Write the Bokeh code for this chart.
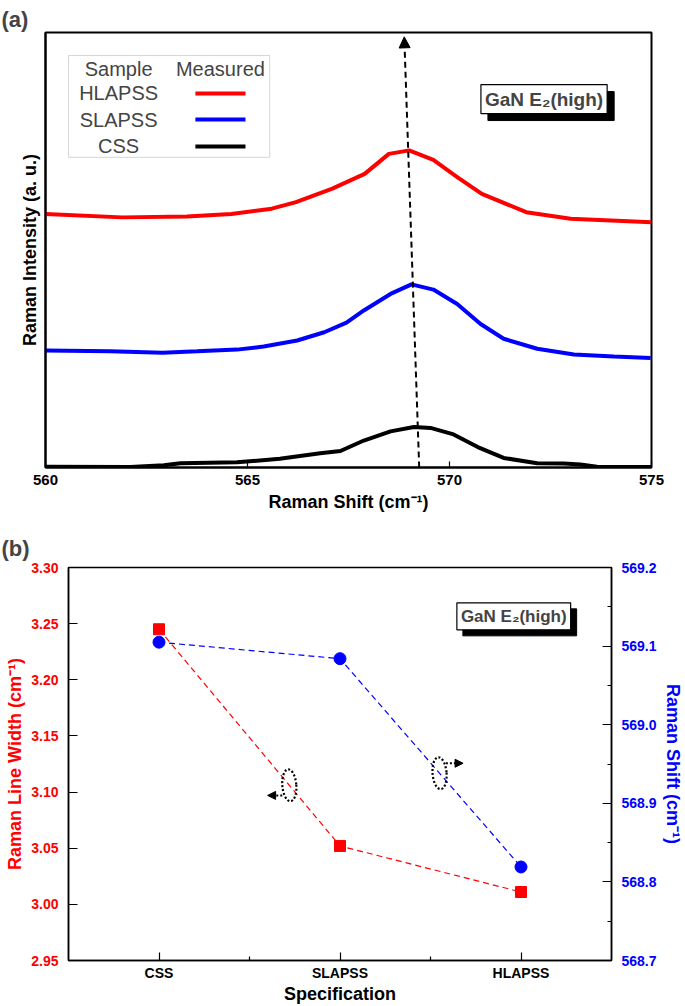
from bokeh.plotting import figure
from bokeh.models import (Range1d, LinearAxis, FixedTicker, Label, BoxAnnotation,
                          Arrow, NormalHead, NumeralTickFormatter)
from bokeh.embed import file_html
from bokeh.resources import INLINE

FONT = "Liberation Sans"

# ---------------- Panel (a): Raman spectra ----------------
shift_hlapss = [560.0, 561.9, 563.5, 564.6, 565.6, 566.2, 567.1, 567.9, 568.5, 569.0,
                569.6, 570.2, 570.8, 571.9, 573.0, 574.0, 575.0]
int_hlapss = [0.583, 0.575, 0.577, 0.583, 0.595, 0.610, 0.641, 0.675, 0.721, 0.729,
              0.707, 0.667, 0.629, 0.587, 0.572, 0.568, 0.564]

shift_slapss = [560.0, 561.6, 562.9, 563.75, 564.74, 565.4, 566.23, 566.9, 567.45, 567.88,
                568.54, 569.06, 569.6, 570.19, 570.77, 571.34, 572.17, 573.08, 574.07, 574.98]
int_slapss = [0.269, 0.267, 0.264, 0.267, 0.271, 0.278, 0.292, 0.311, 0.333, 0.361,
              0.399, 0.421, 0.409, 0.376, 0.330, 0.296, 0.273, 0.260, 0.255, 0.252]

shift_css = [560.0, 562.1, 562.93, 563.34, 564.74, 565.8, 566.8, 567.3, 567.88, 568.54,
             569.12, 569.53, 570.1, 570.7, 571.34, 572.17, 572.83, 573.24, 573.65, 575.0]
int_css = [0.002, 0.001, 0.005, 0.010, 0.012, 0.020, 0.033, 0.038, 0.062, 0.083,
           0.093, 0.091, 0.076, 0.047, 0.022, 0.010, 0.009, 0.007, 0.002, 0.001]

samples = ["HLAPSS", "SLAPSS", "CSS"]
sample_colors = ["#ff0000", "#0000ff", "#000000"]
xticks_a = [560, 565, 570, 575]

# ---------------- Panel (b): line width and shift ----------------
categories = ["CSS", "SLAPSS", "HLAPSS"]
line_width_vals = [3.245, 3.052, 3.011]
raman_shift_vals = [569.105, 569.084, 568.819]
left_ticks = [2.95, 3.00, 3.05, 3.10, 3.15, 3.20, 3.25, 3.30]
right_ticks = [568.7, 568.8, 568.9, 569.0, 569.1, 569.2]
right_minor = [568.75, 568.85, 568.95, 569.05, 569.15]


def style_axis(ax, size="15px", color="black", label_size="18px", label_color="black"):
    ax.major_label_text_font = FONT
    ax.major_label_text_font_style = "bold"
    ax.major_label_text_font_size = size
    ax.major_label_text_color = color
    ax.axis_label_text_font = FONT
    ax.axis_label_text_font_style = "bold"
    ax.axis_label_text_font_size = label_size
    ax.axis_label_text_color = label_color
    ax.axis_line_color = "black"
    ax.axis_line_width = 1.5
    ax.major_tick_line_color = "black"
    ax.major_tick_line_width = 1.2
    ax.minor_tick_line_color = "black"
    ax.minor_tick_line_width = 1.2
    ax.major_tick_out = 0
    ax.minor_tick_out = 0


def style_title(p, text, offset, standoff):
    p.title.text = text
    p.title.text_font = FONT
    p.title.text_font_size = "22px"
    p.title.text_font_style = "bold"
    p.title.align = "left"
    p.title.offset = offset
    p.title.standoff = standoff


# ================= Figure (a) =================
p1 = figure(width=685, height=519, x_range=Range1d(560, 575), y_range=Range1d(0, 1),
            output_backend="svg", toolbar_location=None,
            min_border_left=45, min_border_right=34, min_border_top=32, min_border_bottom=52)
p1.grid.visible = False
p1.outline_line_color = "black"
p1.outline_line_width = 2
style_title(p1, "(a)", -44, 2)

xa = p1.xaxis[0]
style_axis(xa)
xa.ticker = FixedTicker(ticks=xticks_a)
xa.major_tick_in = 6
xa.minor_tick_line_color = None
xa.major_label_standoff = 7
xa.axis_label = "Raman Shift (cm\u207b\u00b9)"
xa.axis_label_standoff = 4
xa.axis_line_width = 2

ya = p1.yaxis[0]
style_axis(ya)
ya.ticker = FixedTicker(ticks=[])
ya.major_tick_line_color = None
ya.minor_tick_line_color = None
ya.major_label_standoff = 0
ya.axis_label = "Raman Intensity (a. u.)"
ya.axis_label_standoff = 6
ya.axis_line_width = 2

p1.line(shift_hlapss, int_hlapss, line_color=sample_colors[0], line_width=4)
p1.line(shift_slapss, int_slapss, line_color=sample_colors[1], line_width=4)
p1.line(shift_css, int_css, line_color=sample_colors[2], line_width=4)

# peak-shift arrow
p1.add_layout(Arrow(end=NormalHead(size=11, fill_color="black", line_color="black"),
                    x_start=569.25, y_start=0.0, x_end=568.88, y_end=0.99,
                    line_color="black", line_width=2, line_dash="6 4"))

# legend box
p1.add_layout(BoxAnnotation(left=560.57, right=565.55, top=0.947, bottom=0.713,
                            fill_color="white", fill_alpha=1.0, line_color="#777777",
                            line_width=1, level="underlay"))
legend_rows_y = [0.860, 0.800, 0.738]
p1.add_layout(Label(x=561.81, y=0.915, text="Sample", text_font=FONT, text_font_size="20px",
                    text_align="center", text_baseline="middle"))
p1.add_layout(Label(x=564.33, y=0.915, text="Measured", text_font=FONT, text_font_size="20px",
                    text_align="center", text_baseline="middle"))
for name, col, yy in zip(samples, sample_colors, legend_rows_y):
    p1.add_layout(Label(x=561.81, y=yy, text=name, text_font=FONT, text_font_size="20px",
                        text_align="center", text_baseline="middle"))
    p1.segment(x0=[563.71], y0=[yy], x1=[564.95], y1=[yy], line_color=col, line_width=4)

# GaN E2(high) box with shadow
gan_text = "GaN E\u2082(high)"
p1.add_layout(Label(x=572.34, y=0.847, text=gan_text, text_font=FONT, text_font_size="19px",
                    text_font_style="bold", text_align="center", text_baseline="middle",
                    text_color="black", background_fill_color="black",
                    border_line_color="black", padding=4, x_offset=7, y_offset=-7))
p1.add_layout(Label(x=572.34, y=0.847, text=gan_text, text_font=FONT, text_font_size="19px",
                    text_font_style="bold", text_align="center", text_baseline="middle",
                    background_fill_color="white", border_line_color="black",
                    border_line_width=1.2, padding=4))

# ================= Figure (b) =================
x_idx = list(range(len(categories)))
p2 = figure(width=685, height=487, x_range=Range1d(-0.5, 2.5),
            y_range=Range1d(2.95, 3.30), output_backend="svg", toolbar_location=None,
            min_border_left=68, min_border_right=73, min_border_top=48, min_border_bottom=45)
p2.grid.visible = False
p2.outline_line_color = "black"
p2.outline_line_width = 1.5
p2.extra_y_ranges = {"shift": Range1d(568.7, 569.2)}
style_title(p2, "(b)", -67, 13)

xb = p2.xaxis[0]
style_axis(xb, size="14px")
xb.ticker = FixedTicker(ticks=x_idx, minor_ticks=[0.5, 1.5])
xb.major_label_overrides = {i: c for i, c in zip(x_idx, categories)}
xb.major_tick_in = 8
xb.minor_tick_in = 4
xb.major_label_standoff = 4
xb.axis_label = "Specification"
xb.axis_label_standoff = 0

yb = p2.yaxis[0]
style_axis(yb, size="14px", color="#ff0000", label_color="#ff0000")
yb.ticker = FixedTicker(ticks=left_ticks)
yb.formatter = NumeralTickFormatter(format="0.00")
yb.major_tick_in = 9
yb.minor_tick_line_color = None
yb.major_label_standoff = 10
yb.axis_label = "Raman Line Width (cm\u207b\u00b9)"
yb.axis_label_standoff = 3

yr = LinearAxis(y_range_name="shift")
style_axis(yr, size="14px", color="#0000ff", label_color="#0000ff")
yr.ticker = FixedTicker(ticks=right_ticks, minor_ticks=right_minor)
yr.formatter = NumeralTickFormatter(format="0.0")
yr.major_tick_in = 9
yr.minor_tick_in = 4
yr.major_label_standoff = 10
yr.axis_label = "Raman Shift (cm\u207b\u00b9)"
yr.axis_label_standoff = 3
p2.add_layout(yr, "right")

p2.line(x_idx, line_width_vals, line_color="#ff0000", line_width=1.2, line_dash="6 4")
p2.scatter(x_idx, line_width_vals, marker="square", size=11, fill_color="#ff0000",
           line_color="#ff0000")
p2.line(x_idx, raman_shift_vals, line_color="#0000ff", line_width=1.2, line_dash="6 4",
        y_range_name="shift")
p2.scatter(x_idx, raman_shift_vals, marker="circle", size=12, fill_color="#0000ff",
           line_color="#0000ff", y_range_name="shift")

# dotted "loop" markers indicating which axis each curve belongs to
t1 = 0.72
cx1 = x_idx[0] + t1 * (x_idx[1] - x_idx[0])
cy1 = line_width_vals[0] + t1 * (line_width_vals[1] - line_width_vals[0])
t2 = 0.55
cx2 = x_idx[1] + t2 * (x_idx[2] - x_idx[1])
cy2 = raman_shift_vals[1] + t2 * (raman_shift_vals[2] - raman_shift_vals[1])

p2.ellipse(x=[cx1], y=[cy1], width=14, height=32, width_units="screen", height_units="screen",
           angle=0.08, fill_color=None, line_color="black", line_width=2.2, line_dash="2 2")
p2.ellipse(x=[cx2], y=[cy2], width=14, height=32, width_units="screen", height_units="screen",
           angle=0.08, fill_color=None, line_color="black", line_width=2.2, line_dash="2 2",
           y_range_name="shift")
p2.add_layout(Arrow(end=NormalHead(size=8, fill_color="black", line_color="black"),
                    x_start=cx1 - 0.039, y_start=cy1 - 0.009, x_end=cx1 - 0.12, y_end=cy1 - 0.009,
                    line_color="black", line_width=2, line_dash="2 2"))
p2.add_layout(Arrow(end=NormalHead(size=8, fill_color="black", line_color="black"),
                    x_start=cx2 + 0.035, y_start=cy2 + 0.0127, x_end=cx2 + 0.13, y_end=cy2 + 0.0127,
                    line_color="black", line_width=2, line_dash="2 2", y_range_name="shift"))

p2.add_layout(Label(x=1.96, y=3.2565, text=gan_text, text_font=FONT, text_font_size="17px",
                    text_font_style="bold", text_align="center", text_baseline="middle",
                    text_color="black", background_fill_color="black",
                    border_line_color="black", padding=4, x_offset=6, y_offset=-6))
p2.add_layout(Label(x=1.96, y=3.2565, text=gan_text, text_font=FONT, text_font_size="17px",
                    text_font_style="bold", text_align="center", text_baseline="middle",
                    background_fill_color="white", border_line_color="black",
                    border_line_width=1.2, padding=4))

open("out.html", "w").write(file_html([p1, p2], INLINE))
